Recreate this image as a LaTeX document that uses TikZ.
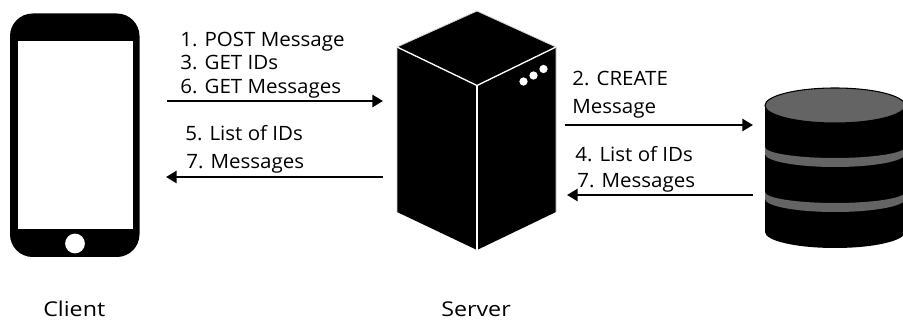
\documentclass[tikz,border=0pt]{standalone}
\usepackage{fontspec}
\setmainfont{Open Sans}
\newfontfamily\lblfont[FakeStretch=1.04]{Open Sans}
\newfontfamily\captionfont[FakeStretch=1.14]{Open Sans}
\usetikzlibrary{arrows.meta}
\tikzset{
  x=0.75pt,y=-0.75pt,
  lbl/.style={anchor=base west,inner sep=0pt,font=\lblfont\fontsize{14.8pt}{16pt}\selectfont,text=black},
  captionlbl/.style={anchor=base west,inner sep=0pt,font=\captionfont\fontsize{15.3pt}{17pt}\selectfont,text=black},
  flow/.style={draw=black,line width=2.1pt,-{Triangle[length=8pt,width=9pt]}},
  edgewhite/.style={draw=white,line width=1pt,line join=round},
}
\definecolor{dbgrey}{RGB}{100,100,100}
\begin{document}
\begin{tikzpicture}
\useasboundingbox (0,0) rectangle (903,323);
\path[fill=white] (0,0) rectangle (903,323);
% phone
\fill[black,rounded corners=17pt] (10,13.5) rectangle (139.5,257);
\fill[white] (17.5,41.5) rectangle (133,229.5);
\fill[white] (75,243.5) circle[radius=7.4pt];
% server
\fill[black] (477,11) -- (556,47) -- (556,212) -- (477,250) -- (397,212) -- (397,47) -- cycle;
\draw[edgewhite] (397,47) -- (477,85.5) -- (556,47);
\draw[edgewhite] (477,85.5) -- (477,250);
\draw[draw=white!85!black,line width=.6pt,line join=round] (397,212) -- (397,47) -- (477,11) -- (556,47) -- (556,212);
\fill[white] (523.5,81.5) circle[radius=3.1pt];
\fill[white] (533.5,75.5) circle[radius=3.1pt];
\fill[white] (543.5,69) circle[radius=3.1pt];
% database
\begin{scope}
\clip (0,0) rectangle (903,323);
\fill[black] (765,105.5) -- (765,232) arc[start angle=180,end angle=0,x radius=70,y radius=16] -- (905,105.5) -- cycle;
\fill[dbgrey,draw=black,line width=.8pt] (835,105.5) ellipse[x radius=70,y radius=17.5];
\fill[dbgrey] (765,147) arc[start angle=180,end angle=0,x radius=70,y radius=11]
  -- (905,154) arc[start angle=0,end angle=180,x radius=70,y radius=13] -- cycle;
\fill[dbgrey] (765,192) arc[start angle=180,end angle=0,x radius=70,y radius=11]
  -- (905,199) arc[start angle=0,end angle=180,x radius=70,y radius=13] -- cycle;
\end{scope}
% anchors for connectors
\coordinate (clientTopEnd) at (167,101);
\coordinate (serverTopEnd) at (383,101);
\coordinate (serverLowEnd) at (383,177);
\coordinate (clientLowEnd) at (166,177);
\coordinate (serverOut) at (565,125);
\coordinate (dbIn) at (753,125);
\coordinate (dbOut) at (753,195);
\coordinate (serverIn) at (567,195);
\draw[flow] (clientTopEnd) -- (serverTopEnd);
\draw[flow] (serverLowEnd) -- (clientLowEnd);
\draw[flow] (serverOut) -- (dbIn);
\draw[flow] (dbOut) -- (serverIn);
% labels
\node[lbl] (l1) at (180,46.7) {1. POST Message};
\node[lbl] (l3) at (180,70) {3. GET IDs};
\node[lbl] (l6) at (180,94) {6. GET Messages};
\node[lbl] (l5) at (185,140.7) {5. List of IDs};
\node[lbl] (l7a) at (186,169) {7. Messages};
\node[lbl] (l2) at (572,85.7) {2. CREATE};
\node[lbl] (l2b) at (572,114) {Message};
\node[lbl] (l4) at (575,161.7) {4. List of IDs};
\node[lbl] (l7b) at (577,187.7) {7. Messages};
\node[captionlbl] (client) at (43,317) {Client};
\node[captionlbl] (server) at (441,317) {Server};
\end{tikzpicture}
\end{document}
